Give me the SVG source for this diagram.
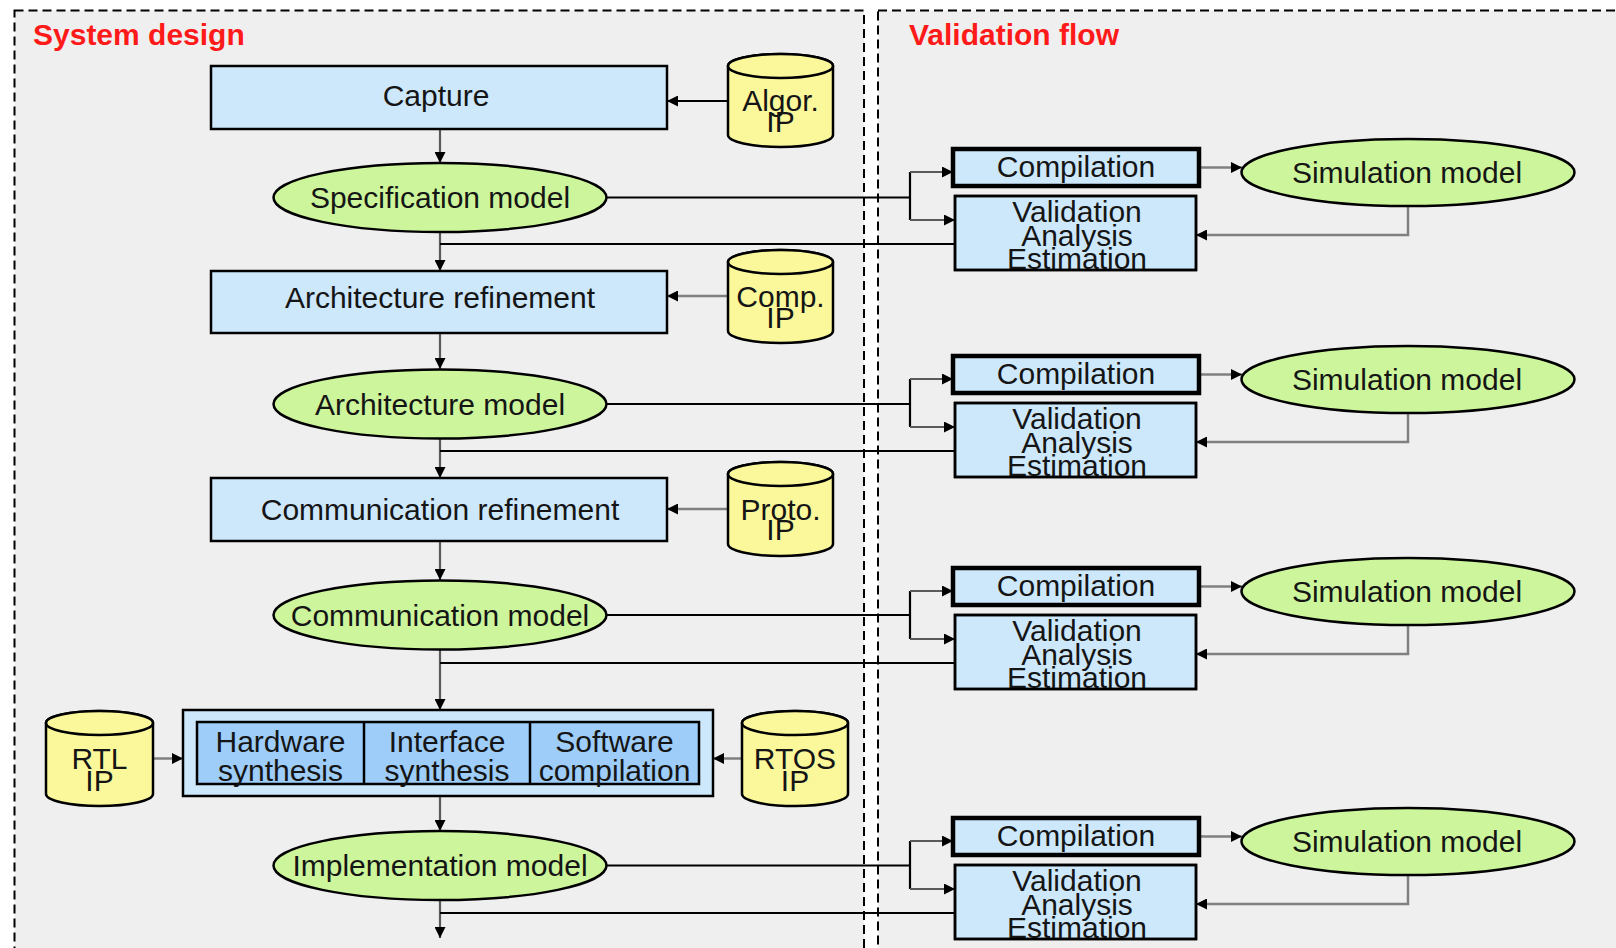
<svg xmlns="http://www.w3.org/2000/svg" width="1616" height="948" viewBox="0 0 1616 948">
<style>
text{font-family:"Liberation Sans",Arial,sans-serif;font-size:30px;fill:#151515;text-anchor:middle}
.title{font-weight:bold;fill:#ff1a1a;text-anchor:start}
.panel{fill:#efefef;stroke:#000;stroke-width:2;stroke-dasharray:9 5}
.box{fill:#cde8fb;stroke:#000;stroke-width:2.5}
.comp{fill:#cde8fb;stroke:#000;stroke-width:4.5}
.inner{fill:#9dcdf8;stroke:#000;stroke-width:2.5}
.model{fill:#cdf59b;stroke:#000;stroke-width:2.5}
.cyl{fill:#fbf89c;stroke:#000;stroke-width:2.5}
.k{fill:none;stroke:#000;stroke-width:2.2}
.g{fill:none;stroke:#5a5a5a;stroke-width:2.2}
.lg{fill:none;stroke:#808080;stroke-width:2.5}
.nofill{fill:none;stroke:#000;stroke-width:2.5}
</style>
<defs>
<marker id="ah" markerUnits="userSpaceOnUse" markerWidth="11" markerHeight="11" refX="11" refY="5.5" orient="auto">
<path d="M0,0 L11,5.5 L0,11 z" fill="#000"/>
</marker>
</defs>
<rect width="1616" height="948" fill="#fff"/>
<g id="panels">
<rect class="panel" x="14.5" y="10.5" width="849.5" height="960"/>
<rect class="panel" x="878" y="10.5" width="760" height="960"/>
<text class="title" x="33" y="45">System design</text>
<text class="title" x="909" y="45">Validation flow</text>
</g>

<g id="connectors">
<!-- main column -->
<line class="g" x1="440" y1="129" x2="440" y2="163" marker-end="url(#ah)"/>
<line class="g" x1="440" y1="232" x2="440" y2="271" marker-end="url(#ah)"/>
<line class="g" x1="440" y1="333" x2="440" y2="369" marker-end="url(#ah)"/>
<line class="g" x1="440" y1="438" x2="440" y2="478" marker-end="url(#ah)"/>
<line class="g" x1="440" y1="541" x2="440" y2="580" marker-end="url(#ah)"/>
<line class="g" x1="440" y1="649" x2="440" y2="710" marker-end="url(#ah)"/>
<line class="g" x1="440" y1="796" x2="440" y2="831" marker-end="url(#ah)"/>
<line class="g" x1="440" y1="900" x2="440" y2="938" marker-end="url(#ah)"/>
<!-- IP inputs -->
<line class="k" x1="728" y1="101" x2="667" y2="101" marker-end="url(#ah)"/>
<line class="lg" x1="728" y1="296" x2="667" y2="296" marker-end="url(#ah)"/>
<line class="lg" x1="728" y1="509" x2="667" y2="509" marker-end="url(#ah)"/>
<line class="lg" x1="153" y1="758.5" x2="183" y2="758.5" marker-end="url(#ah)"/>
<line class="lg" x1="742" y1="758.5" x2="713" y2="758.5" marker-end="url(#ah)"/>
<!-- row 1 -->
<polyline class="k" points="606,197.5 910,197.5"/>
<polyline class="k" points="910,172 910,220"/>
<line class="g" x1="910" y1="172" x2="953" y2="172" marker-end="url(#ah)"/>
<line class="g" x1="910" y1="220" x2="955" y2="220" marker-end="url(#ah)"/>
<line class="k" x1="955" y1="244" x2="440" y2="244"/>
<line class="lg" x1="1199" y1="167.5" x2="1242" y2="167.5" marker-end="url(#ah)"/>
<polyline class="lg" points="1408,206 1408,235 1196,235" marker-end="url(#ah)"/>
<!-- row 2 -->
<polyline class="k" points="606,404 910,404"/>
<polyline class="k" points="910,379 910,427"/>
<line class="g" x1="910" y1="379" x2="953" y2="379" marker-end="url(#ah)"/>
<line class="g" x1="910" y1="427" x2="955" y2="427" marker-end="url(#ah)"/>
<line class="k" x1="955" y1="451" x2="440" y2="451"/>
<line class="lg" x1="1199" y1="374.5" x2="1242" y2="374.5" marker-end="url(#ah)"/>
<polyline class="lg" points="1408,413 1408,442 1196,442" marker-end="url(#ah)"/>
<!-- row 3 -->
<polyline class="k" points="606,615 910,615"/>
<polyline class="k" points="910,591 910,639"/>
<line class="g" x1="910" y1="591" x2="953" y2="591" marker-end="url(#ah)"/>
<line class="g" x1="910" y1="639" x2="955" y2="639" marker-end="url(#ah)"/>
<line class="k" x1="955" y1="663" x2="440" y2="663"/>
<line class="lg" x1="1199" y1="586.5" x2="1242" y2="586.5" marker-end="url(#ah)"/>
<polyline class="lg" points="1408,625 1408,654 1196,654" marker-end="url(#ah)"/>
<!-- row 4 -->
<polyline class="k" points="606,865.5 910,865.5"/>
<polyline class="k" points="910,841 910,889"/>
<line class="g" x1="910" y1="841" x2="953" y2="841" marker-end="url(#ah)"/>
<line class="g" x1="910" y1="889" x2="955" y2="889" marker-end="url(#ah)"/>
<line class="k" x1="955" y1="913" x2="440" y2="913"/>
<line class="lg" x1="1199" y1="836.5" x2="1242" y2="836.5" marker-end="url(#ah)"/>
<polyline class="lg" points="1408,875 1408,904 1196,904" marker-end="url(#ah)"/>
</g>

<g id="capture"><rect class="box" x="211" y="66" width="456" height="63"/><text x="436" y="106">Capture</text></g>
<g id="algor-ip"><path class="cyl" d="M728,66 A52.5,12 0 0 1 833,66 L833,135 A52.5,12 0 0 1 728,135 Z"/><ellipse class="cyl" cx="780.5" cy="66" rx="52.5" ry="12"/><text x="780.5" y="110.5">Algor.</text><text x="780.5" y="132">IP</text></g>
<g id="spec-model"><ellipse class="model" cx="440" cy="197.5" rx="166.5" ry="34.5"/><text x="440" y="208">Specification model</text></g>
<g id="arch-refinement"><rect class="box" x="211" y="271" width="456" height="62"/><text x="440" y="308">Architecture refinement</text></g>
<g id="comp-ip"><path class="cyl" d="M728,262 A52.5,12 0 0 1 833,262 L833,331 A52.5,12 0 0 1 728,331 Z"/><ellipse class="cyl" cx="780.5" cy="262" rx="52.5" ry="12"/><text x="780.5" y="306.5">Comp.</text><text x="780.5" y="328">IP</text></g>
<g id="arch-model"><ellipse class="model" cx="440" cy="404" rx="166.5" ry="34.5"/><text x="440" y="414.5">Architecture model</text></g>
<g id="comm-refinement"><rect class="box" x="211" y="478" width="456" height="63"/><text x="440" y="519.5">Communication refinement</text></g>
<g id="proto-ip"><path class="cyl" d="M728,474 A52.5,12 0 0 1 833,474 L833,544 A52.5,12 0 0 1 728,544 Z"/><ellipse class="cyl" cx="780.5" cy="474" rx="52.5" ry="12"/><text x="780.5" y="519.5">Proto.</text><text x="780.5" y="539.5">IP</text></g>
<g id="comm-model"><ellipse class="model" cx="440" cy="615" rx="166.5" ry="34.5"/><text x="440" y="625.5">Communication model</text></g>
<g id="synthesis"><rect class="box" x="183" y="710" width="530" height="86"/><rect class="inner" x="197" y="722" width="502" height="62"/><line class="nofill" x1="364" y1="722" x2="364" y2="784"/><line class="nofill" x1="530" y1="722" x2="530" y2="784"/>
<text x="280.5" y="751.5">Hardware</text><text x="280.5" y="781">synthesis</text>
<text x="447" y="751.5">Interface</text><text x="447" y="781">synthesis</text>
<text x="614.5" y="751.5">Software</text><text x="614.5" y="781">compilation</text></g>
<g id="rtl-ip"><path class="cyl" d="M46,723 A53.5,12 0 0 1 153,723 L153,794 A53.5,12 0 0 1 46,794 Z"/><ellipse class="cyl" cx="99.5" cy="723" rx="53.5" ry="12"/><text x="99.5" y="769">RTL</text><text x="99.5" y="790.5">IP</text></g>
<g id="rtos-ip"><path class="cyl" d="M742,723 A53,12 0 0 1 848,723 L848,794 A53,12 0 0 1 742,794 Z"/><ellipse class="cyl" cx="795" cy="723" rx="53" ry="12"/><text x="795" y="769">RTOS</text><text x="795" y="790.5">IP</text></g>
<g id="impl-model"><ellipse class="model" cx="440" cy="865.5" rx="166.5" ry="34.5"/><text x="440" y="875.5">Implementation model</text></g>

<g id="compilation-1"><rect class="comp" x="953" y="149" width="246" height="37"/><text x="1076" y="177">Compilation</text></g>
<g id="vae-1"><rect class="box" x="955" y="196" width="241" height="74"/><text x="1077" y="222">Validation</text><text x="1077" y="246">Analysis</text><text x="1077" y="269">Estimation</text><rect class="nofill" x="955" y="196" width="241" height="74"/></g>
<g id="sim-1"><ellipse class="model" cx="1408" cy="172.5" rx="166.5" ry="33.5"/><text x="1407" y="182.5">Simulation model</text></g>

<g id="compilation-2"><rect class="comp" x="953" y="356" width="246" height="37"/><text x="1076" y="384">Compilation</text></g>
<g id="vae-2"><rect class="box" x="955" y="403" width="241" height="74"/><text x="1077" y="429">Validation</text><text x="1077" y="453">Analysis</text><text x="1077" y="476">Estimation</text><rect class="nofill" x="955" y="403" width="241" height="74"/></g>
<g id="sim-2"><ellipse class="model" cx="1408" cy="379.5" rx="166.5" ry="33.5"/><text x="1407" y="389.5">Simulation model</text></g>

<g id="compilation-3"><rect class="comp" x="953" y="568" width="246" height="37"/><text x="1076" y="596">Compilation</text></g>
<g id="vae-3"><rect class="box" x="955" y="615" width="241" height="74"/><text x="1077" y="641">Validation</text><text x="1077" y="665">Analysis</text><text x="1077" y="688">Estimation</text><rect class="nofill" x="955" y="615" width="241" height="74"/></g>
<g id="sim-3"><ellipse class="model" cx="1408" cy="591.5" rx="166.5" ry="33.5"/><text x="1407" y="601.5">Simulation model</text></g>

<g id="compilation-4"><rect class="comp" x="953" y="818" width="246" height="37"/><text x="1076" y="846">Compilation</text></g>
<g id="vae-4"><rect class="box" x="955" y="865" width="241" height="74"/><text x="1077" y="891">Validation</text><text x="1077" y="915">Analysis</text><text x="1077" y="938">Estimation</text><rect class="nofill" x="955" y="865" width="241" height="74"/></g>
<g id="sim-4"><ellipse class="model" cx="1408" cy="841.5" rx="166.5" ry="33.5"/><text x="1407" y="851.5">Simulation model</text></g>
</svg>
